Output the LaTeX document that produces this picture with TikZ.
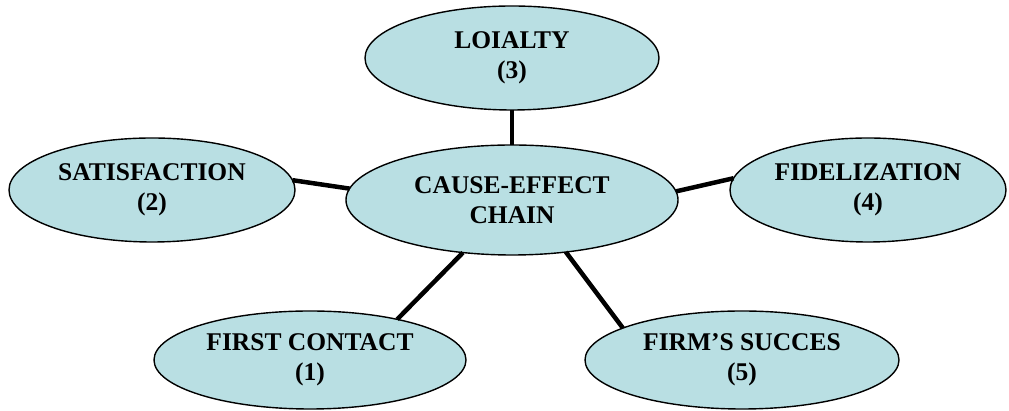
\documentclass[tikz,border=0pt]{standalone}
\usepackage{fontspec}
\setmainfont{Liberation Serif}
\usetikzlibrary{shapes.geometric}
\definecolor{ellfill}{RGB}{185,223,227}
\begin{document}
\begin{tikzpicture}[x=1pt,y=1pt,
  ell/.style={ellipse,draw=black,line width=1.4pt,fill=ellfill,inner sep=0pt,outer sep=0pt,
    align=center,font=\fontsize{25.5}{30}\selectfont\bfseries},
  conn/.style={line width=4.5pt,black}]
\useasboundingbox (0,0) rectangle (1009,411);
\node[ell,minimum width=294pt,minimum height=104pt] (l) at (512,353) {LOIALTY\\(3)};
\node[ell,minimum width=286pt,minimum height=104pt] (s) at (152,221) {SATISFACTION\\(2)};
\node[ell,minimum width=332pt,minimum height=110pt] (c) at (512,211) {CAUSE-EFFECT\\CHAIN};
\node[ell,minimum width=276pt,minimum height=104pt] (f) at (868,221) {FIDELIZATION\\(4)};
\node[ell,minimum width=312pt,minimum height=98pt] (fc) at (310,51) {FIRST CONTACT\\(1)};
\node[ell,minimum width=314pt,minimum height=98pt] (fs) at (742,51) {FIRM’S SUCCES\\(5)};
\draw[conn] (l.south) -- (c.north);
\draw[conn] (s.4.8) -- (c.176.5);
\draw[conn] (c.3.6) -- (f.175.4);
\draw[conn] (c.227.2) -- (fc.25.8);
\draw[conn] (c.316.6) -- (fs.165);
\end{tikzpicture}
\end{document}
